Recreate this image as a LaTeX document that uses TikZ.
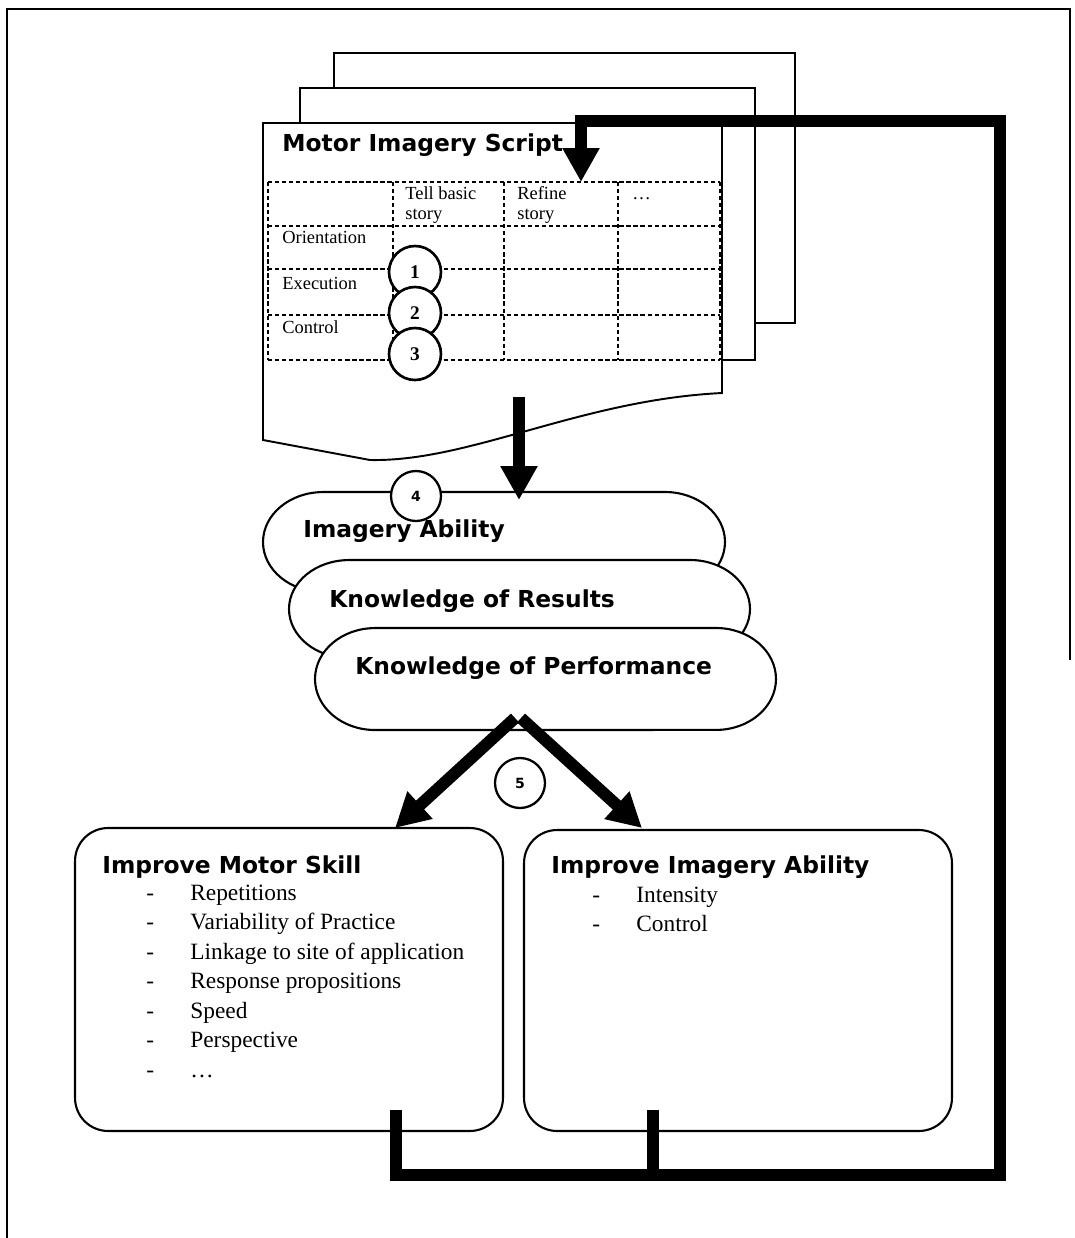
\documentclass[tikz,border=0pt]{standalone}
\usepackage{fontspec}
\setmainfont{Liberation Serif}
\newfontfamily\headfont{DejaVu Sans}
\usetikzlibrary{arrows.meta}

\begin{document}
\begin{tikzpicture}[
    x=0.02cm, y=-0.02cm,
    thin line/.style={line width=1.1pt},
    page/.style={thin line, fill=white},
    grid/.style={line width=1.1pt, dash pattern=on 2.4pt off 1.6pt},
    lobe/.style={line width=1.2pt, fill=white},
    box/.style={draw, line width=1.2pt, rounded corners=0.66cm, inner sep=0pt},
    tabtext/.style={anchor=base west, inner sep=0pt, font=\fontsize{10.5}{12}\selectfont},
    heading/.style={anchor=base west, inner sep=0pt, font=\headfont\bfseries\fontsize{13.3}{16}\selectfont},
    item/.style={anchor=base west, inner sep=0pt, font=\fontsize{13.3}{16}\selectfont},
    stepmark/.style={circle, draw, fill=white, line width=1.5pt, minimum size=1.04cm, inner sep=0pt, font=\bfseries\fontsize{11}{12}\selectfont},
    phasemark/.style={circle, draw, fill=white, line width=1.3pt, minimum size=1cm, inner sep=0pt, font=\headfont\bfseries\fontsize{8}{9}\selectfont},
    feedback/.style={line width=6.8pt},
    bigarrow/.style={line width=6.8pt, -{Triangle[width=0.7cm,length=0.68cm]}}
 ]
\useasboundingbox (0,0) rectangle (1075,1238);
\def\lobe#1#2#3#4{%
    \draw[lobe] ({#1+60},#2) -- ({#3-60},#2)
        arc[start angle=90, end angle=-90, x radius=1.2cm, y radius={0.01cm*(#4-#2)}]
        -- ({#1+60},#4)
        arc[start angle=-90, end angle=-270, x radius=1.2cm, y radius={0.01cm*(#4-#2)}] -- cycle;}

% frame
\draw[line width=1.4pt] (1070,660) -- (1070,9) -- (7,9) -- (7,1238);

% script pages
\node[draw, page, minimum width=9.22cm, minimum height=5.4cm] (page3) at (564.5,188) {};
\node[draw, page, minimum width=9.1cm, minimum height=5.44cm] (page2) at (527.5,224) {};
\draw[page] (263,123) -- (722,123) -- (722,393)
    .. controls (580,400) and (470,462) .. (370,460) -- (263,440) -- cycle;
\node[heading] (script) at (282,151) {Motor Imagery Script};

\foreach \r in {182,226,269,315,360} {
    \draw[grid] (268,\r) -- (720,\r);
}
\foreach \c in {268,393,504,618,720} {
    \draw[grid] (\c,182) -- (\c,360);
}
\node[tabtext] (tell) at (405,199) {Tell basic};
\node[tabtext] (tell2) at (405,219) {story};
\node[tabtext] (refine) at (517,199) {Refine};
\node[tabtext] (refine2) at (517,219) {story};
\node[tabtext] (more) at (632,199) {\ldots};
\node[tabtext] (orient) at (282,243) {Orientation};
\node[tabtext] (exec) at (282,289) {Execution};
\node[tabtext] (ctrl) at (282,333) {Control};

\node[stepmark] (s1) at (415,272) {1};
\node[stepmark] (s2) at (415,313) {2};
\node[stepmark] (s3) at (415,354) {3};

% feedback lobes
\lobe{263}{492}{725}{592}
\lobe{289}{560}{750}{658}
\lobe{315}{628}{776}{730}
\node[heading] (ability) at (303,537) {Imagery Ability};
\node[heading] (results) at (329,607) {Knowledge of Results};
\node[heading] (performance) at (355,674) {Knowledge of Performance};
\node[phasemark] (s4) at (416,496) {4};

\coordinate (script out) at (519,397);
\coordinate (ability in) at (519,500);
\draw[bigarrow] (script out) -- (ability in);

% outcome boxes
\node[box, minimum width=8.56cm, minimum height=6.06cm] (motor) at (289,979.5) {};
\node[box, minimum width=8.56cm, minimum height=6.02cm] (imagery) at (738,980.5) {};
\node[heading] (motor title) at (102,873) {Improve Motor Skill};
\node[heading] (imagery title) at (551,873) {Improve Imagery Ability};
\foreach \txt [count=\i from 0] in {Repetitions, Variability of Practice, Linkage to site of application, Response propositions, Speed, Perspective, \ldots} {
    \node[item] (mdash\i) at (146,{900+29.5*\i}) {-};
    \node[item] (mitem\i) at (190,{900+29.5*\i}) {\txt};
}
\foreach \txt [count=\i from 0] in {Intensity, Control} {
    \node[item] (idash\i) at (592,{902+29.5*\i}) {-};
    \node[item] (iitem\i) at (636,{902+29.5*\i}) {\txt};
}

\node[phasemark] (s5) at (520,783) {5};
\coordinate (perf left) at (515,718);
\coordinate (perf right) at (521,718);
\coordinate (motor in) at (395,828);
\coordinate (imagery in) at (642,828);
\draw[bigarrow] (perf left) -- (motor in);
\draw[bigarrow] (perf right) -- (imagery in);

% loop back to the script
\coordinate (motor out) at (396,1110);
\coordinate (imagery out) at (653,1110);
\coordinate (loop corner) at (1000,1175);
\coordinate (loop top) at (581,121);
\coordinate (script in) at (581,182);
\draw[bigarrow] (motor out) |- (loop corner) |- (loop top) -- (script in);
\draw[feedback] (imagery out) -- (imagery out |- loop corner);

\end{tikzpicture}
\end{document}
